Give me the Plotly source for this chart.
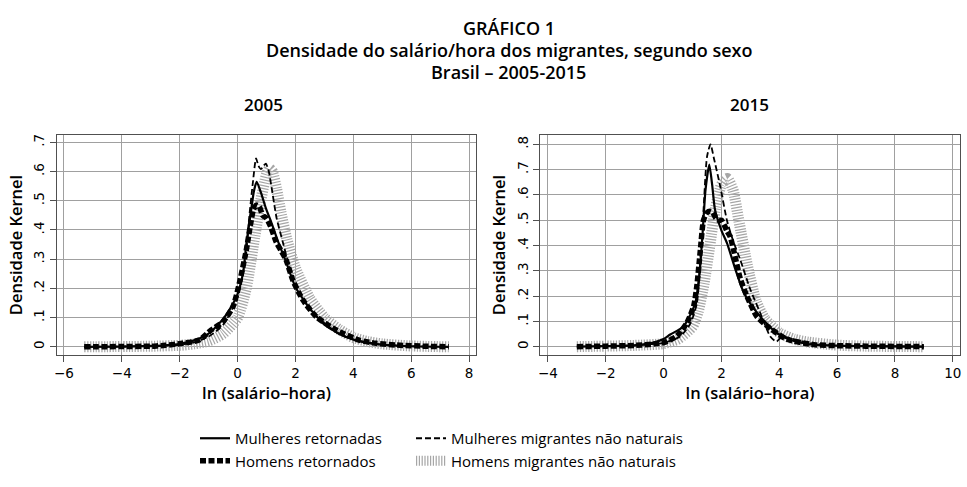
import plotly.graph_objects as go

# ---------------- data ----------------
series_names = ["Mulheres retornadas", "Homens retornados",
                "Mulheres migrantes não naturais", "Homens migrantes não naturais"]

# 2005
mr05_x = [-5.3, -4, -3, -2.5, -2, -1.5, -1, -0.5, -0.2, 0, 0.2, 0.3, 0.46, 0.56, 0.66, 0.8, 0.98, 1.16, 1.4, 1.68, 2.0, 2.5, 3, 3.5, 4, 4.5, 5, 6, 7.3]
mr05_y = [0, 0.001, 0.003, 0.005, 0.01, 0.022, 0.045, 0.095, 0.14, 0.18, 0.26, 0.35, 0.46, 0.53, 0.565, 0.53, 0.474, 0.428, 0.36, 0.29, 0.205, 0.13, 0.08, 0.045, 0.025, 0.013, 0.007, 0.002, 0]

hr05_x = [-5.3, -4, -3, -2.8, -2.5, -1.9, -1.33, -0.92, -0.5, -0.16, 0.06, 0.3, 0.45, 0.55, 0.65, 0.75, 0.87, 1.0, 1.15, 1.33, 1.5, 1.68, 1.91, 2.26, 2.72, 3.42, 4.2, 4.8, 5.5, 6.5, 7.3]
hr05_y = [0, 0.001, 0.002, 0.003, 0.005, 0.012, 0.023, 0.057, 0.086, 0.137, 0.217, 0.33, 0.42, 0.47, 0.485, 0.48, 0.45, 0.44, 0.41, 0.36, 0.33, 0.297, 0.228, 0.16, 0.103, 0.057, 0.023, 0.012, 0.006, 0.002, 0]

mm05_x = [-5.3, -4, -3, -2, -1.5, -1, -0.5, 0, 0.29, 0.40, 0.52, 0.64, 0.72, 0.81, 0.9, 0.98, 1.08, 1.16, 1.35, 1.56, 1.8, 2.0, 2.5, 3, 3.5, 4, 5, 6, 7.3]
mm05_y = [0, 0.001, 0.002, 0.007, 0.015, 0.035, 0.075, 0.17, 0.314, 0.44, 0.554, 0.645, 0.62, 0.608, 0.62, 0.627, 0.6, 0.555, 0.44, 0.36, 0.27, 0.21, 0.13, 0.075, 0.045, 0.025, 0.008, 0.002, 0]

hm05_x = [-5.3, -4, -3, -2, -1.5, -1, -0.5, 0, 0.3, 0.6, 0.8, 1.0, 1.1, 1.2, 1.35, 1.5, 1.7, 2.0, 2.5, 3, 3.5, 4, 4.5, 5, 6, 7.3]
hm05_y = [0, 0.001, 0.002, 0.005, 0.01, 0.02, 0.045, 0.1, 0.2, 0.38, 0.5, 0.59, 0.61, 0.6, 0.54, 0.46, 0.37, 0.27, 0.165, 0.1, 0.06, 0.032, 0.018, 0.01, 0.003, 0]

# 2015
mr15_x = [-3, -2, -1, -0.35, 0, 0.23, 0.69, 1.09, 1.25, 1.35, 1.45, 1.58, 1.68, 1.78, 2.0, 2.19, 2.5, 2.75, 3.0, 3.45, 3.9, 4.3, 5, 6, 7, 9]
mr15_y = [0, 0.002, 0.005, 0.016, 0.03, 0.048, 0.08, 0.17, 0.3, 0.45, 0.62, 0.72, 0.64, 0.54, 0.46, 0.41, 0.3, 0.22, 0.17, 0.105, 0.055, 0.03, 0.01, 0.004, 0.002, 0]

hr15_x = [-3, -2, -1, 0, 0.46, 0.81, 1.04, 1.15, 1.27, 1.38, 1.5, 1.6, 1.7, 1.8, 1.9, 2.0, 2.1, 2.2, 2.3, 2.42, 2.65, 2.88, 3.22, 3.69, 4.27, 5.2, 6, 7, 9]
hr15_y = [0, 0.002, 0.005, 0.016, 0.042, 0.095, 0.16, 0.24, 0.38, 0.5, 0.53, 0.535, 0.53, 0.51, 0.5, 0.5, 0.48, 0.455, 0.436, 0.383, 0.27, 0.2, 0.12, 0.072, 0.029, 0.008, 0.004, 0.002, 0]

mm15_x = [-3, -2, -1, 0, 0.57, 0.92, 1.15, 1.27, 1.38, 1.5, 1.62, 1.75, 1.96, 2.19, 2.4, 2.65, 3.0, 3.34, 3.69, 3.9, 4.1, 4.5, 5, 6, 7, 9]
mm15_y = [0, 0.002, 0.005, 0.015, 0.04, 0.09, 0.17, 0.344, 0.54, 0.75, 0.80, 0.74, 0.633, 0.5, 0.42, 0.344, 0.226, 0.134, 0.04, 0.02, 0.04, 0.03, 0.015, 0.005, 0.002, 0]

hm15_x = [-3, -2, -1, 0, 0.5, 1.0, 1.2, 1.4, 1.6, 1.8, 2.0, 2.2, 2.4, 2.6, 2.9, 3.2, 3.5, 4, 4.5, 5, 6, 7, 9]
hm15_y = [0, 0.002, 0.005, 0.012, 0.03, 0.08, 0.14, 0.25, 0.4, 0.55, 0.64, 0.665, 0.62, 0.5, 0.32, 0.18, 0.11, 0.055, 0.03, 0.018, 0.006, 0.002, 0]

x_ticks_05 = [-6, -4, -2, 0, 2, 4, 6, 8]
x_ticks_15 = [-4, -2, 0, 2, 4, 6, 8, 10]
y_ticks_05 = [0, 0.1, 0.2, 0.3, 0.4, 0.5, 0.6, 0.7]
y_ticks_15 = [0, 0.1, 0.2, 0.3, 0.4, 0.5, 0.6, 0.7, 0.8]
y_text_05 = ["0", ".1", ".2", ".3", ".4", ".5", ".6", ".7"]
y_text_15 = ["0", ".1", ".2", ".3", ".4", ".5", ".6", ".7", ".8"]

title_lines = ["GRÁFICO 1", "Densidade do salário/hora dos migrantes, segundo sexo", "Brasil – 2005-2015"]
panel_titles = ["2005", "2015"]

# ---------------- styles ----------------
styles = {
    "Mulheres retornadas": dict(color="black", width=2.2, dash="solid"),
    "Homens retornados": dict(color="black", width=5.5, dash="6px,2.5px"),
    "Mulheres migrantes não naturais": dict(color="black", width=1.8, dash="6px,3px"),
    "Homens migrantes não naturais": dict(color="#a6a6a6", width=11, dash="1.2px,1.6px"),
}
legend_of = {"Mulheres retornadas": "legend", "Homens retornados": "legend",
             "Mulheres migrantes não naturais": "legend2", "Homens migrantes não naturais": "legend2"}
rank_of = {"Mulheres retornadas": 1, "Homens retornados": 2,
           "Mulheres migrantes não naturais": 1, "Homens migrantes não naturais": 2}

data05 = {"Mulheres retornadas": (mr05_x, mr05_y), "Homens retornados": (hr05_x, hr05_y),
          "Mulheres migrantes não naturais": (mm05_x, mm05_y), "Homens migrantes não naturais": (hm05_x, hm05_y)}
data15 = {"Mulheres retornadas": (mr15_x, mr15_y), "Homens retornados": (hr15_x, hr15_y),
          "Mulheres migrantes não naturais": (mm15_x, mm15_y), "Homens migrantes não naturais": (hm15_x, hm15_y)}

draw_order = ["Homens migrantes não naturais", "Mulheres retornadas",
              "Mulheres migrantes não naturais", "Homens retornados"]

fig = go.Figure()
for data, xa, ya, show in [(data05, "x", "y", True), (data15, "x2", "y2", False)]:
    for name in draw_order:
        xs, ys = data[name]
        fig.add_trace(go.Scatter(
            x=xs, y=ys, mode="lines", name=name, line=dict(shape="spline", smoothing=0.6, **styles[name]),
            xaxis=xa, yaxis=ya, showlegend=show, legend=legend_of[name], legendrank=rank_of[name],
            hoverinfo="skip"))

TICKFONT = dict(family="DejaVu Sans", size=13.5, color="black")
TITLEFONT = dict(family="Open Sans", size=16.5, color="black", weight=600)
axis_common = dict(showgrid=True, gridcolor="#a0a0a0", gridwidth=1.2, zeroline=False,
                   showline=True, linecolor="#505050", linewidth=1.3, mirror=True,
                   ticks="outside", ticklen=6, tickcolor="#505050", tickfont=TICKFONT, automargin=False)

W, H = 967, 487
L, R = 57, 7
PLOT_TOP, PLOT_BOTTOM = 135, 355
PW = W - L - R
PH = PLOT_BOTTOM - PLOT_TOP


def py(pix):  # pixel row -> paper y
    return (PLOT_BOTTOM - pix) / PH


def px(pix):  # pixel column -> paper x
    return (pix - L) / PW


annotations = []
for txt, yy in zip(title_lines, [28, 50, 72]):
    annotations.append(dict(text=txt, x=0.5, xref="paper", y=py(yy), yref="paper", xanchor="center",
                            yanchor="middle", showarrow=False,
                            font=dict(family="Open Sans", size=18, color="black", weight=600)))
for txt, xx in zip(panel_titles, [263, 749]):
    annotations.append(dict(text=txt, x=px(xx), xref="paper", y=py(104), yref="paper", xanchor="center",
                            yanchor="middle", showarrow=False,
                            font=dict(family="Open Sans", size=17, color="black", weight=600)))

fig.update_layout(
    width=W, height=H,
    margin=dict(l=L, r=R, t=PLOT_TOP, b=H - PLOT_BOTTOM, autoexpand=False),
    paper_bgcolor="white", plot_bgcolor="white",
    xaxis=dict(domain=[0, 0.464], range=[-6.24, 8.24], tickvals=x_ticks_05,
               ticktext=[str(v).replace("-", "−") for v in x_ticks_05],
               title=dict(text="ln (salário–hora)", font=TITLEFONT, standoff=2), **axis_common),
    yaxis=dict(domain=[0, 1], range=[-0.028, 0.725], tickvals=y_ticks_05, ticktext=y_text_05, tickangle=-90,
               title=dict(text="Densidade Kernel", font=TITLEFONT, standoff=4), anchor="x", **axis_common),
    xaxis2=dict(domain=[0.535, 1], range=[-4.27, 10.25], tickvals=x_ticks_15,
                ticktext=[str(v).replace("-", "−") for v in x_ticks_15], anchor="y2",
                title=dict(text="ln (salário–hora)", font=TITLEFONT, standoff=2), **axis_common),
    yaxis2=dict(domain=[0, 1], range=[-0.033, 0.837], tickvals=y_ticks_15, ticktext=y_text_15, tickangle=-90,
                title=dict(text="Densidade Kernel", font=TITLEFONT, standoff=4), anchor="x2", **axis_common),
    legend=dict(x=px(195), xanchor="left", y=py(422), yanchor="top",
                orientation="v", font=dict(family="Open Sans", size=15, color="black"),
                bgcolor="rgba(0,0,0,0)", tracegroupgap=0, itemwidth=30),
    legend2=dict(x=px(411), xanchor="left", y=py(422), yanchor="top",
                 orientation="v", font=dict(family="Open Sans", size=15, color="black"),
                 bgcolor="rgba(0,0,0,0)", tracegroupgap=0, itemwidth=30),
    annotations=annotations,
)

fig.write_html("out.html", config={"displayModeBar": False},
               post_script="document.body.style.margin='0px';")
